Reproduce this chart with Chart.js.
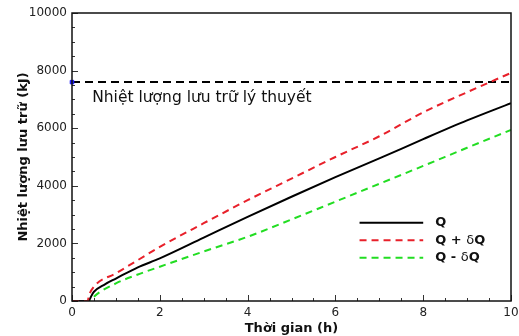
<!DOCTYPE html>
<html>
<head>
<meta charset="utf-8">
<script src="https://cdn.jsdelivr.net/npm/chart.js@4"></script>
<style>
  html, body { margin: 0; padding: 0; background: #fff; }
  #wrap { width: 519px; height: 336px; }
</style>
</head>
<body>
<div id="wrap"><canvas id="c" width="519" height="336"></canvas></div>
<script>
"use strict";

// time (h) / stored heat (kJ)
const qTime   = [0, 0.37, 0.45, 0.5, 0.75, 1, 1.5, 2, 3, 4, 5, 6, 7, 8, 9, 10];
const qValue  = [0, 0, 200, 320, 580, 780, 1170, 1480, 2200, 2920, 3620, 4300, 4950, 5620, 6270, 6870];

const qpTime  = [0, 0.36, 0.38, 0.5, 1, 1.5, 2, 3, 4, 5, 6, 7, 8, 9, 10];
const qpValue = [0, 0, 150, 500, 960, 1420, 1880, 2700, 3500, 4250, 5000, 5720, 6550, 7250, 7920];

const qmTime  = [0, 0.42, 0.5, 1, 1.5, 2, 3, 4, 5, 6, 7, 8, 9, 10];
const qmValue = [0, 0, 150, 610, 920, 1190, 1720, 2230, 2830, 3450, 4070, 4690, 5320, 5940];

const theoryValue = 7600;
const theoryText = "Nhiệt lượng lưu trữ lý thuyết";

const xTicks = [0, 2, 4, 6, 8, 10];
const yTicks = [0, 2000, 4000, 6000, 8000, 10000];

const FONT = "'DejaVu Sans', sans-serif";
const RED = "#e8202a";
const GREEN = "#22dd22";

const pts = (xs, ys) => xs.map((x, i) => ({ x: x, y: ys[i] }));

// inward ticks, major + minor
const tickPlugin = {
  id: "inTicks",
  afterDatasetsDraw(chart) {
    const { ctx, chartArea: a, scales } = chart;
    ctx.save();
    ctx.strokeStyle = "#333";
    ctx.lineWidth = 1;
    for (let v = 0; v <= 10.001; v += 0.5) {
      const px = Math.round(scales.x.getPixelForValue(v)) + 0.5;
      const len = Math.abs(v % 2) < 0.01 ? 6 : 3;
      ctx.beginPath(); ctx.moveTo(px, a.bottom); ctx.lineTo(px, a.bottom - len); ctx.stroke();
    }
    for (let v = 0; v <= 10000; v += 500) {
      const py = Math.round(scales.y.getPixelForValue(v)) + 0.5;
      const len = v % 2000 === 0 ? 6 : 3;
      ctx.beginPath(); ctx.moveTo(a.left, py); ctx.lineTo(a.left + len, py); ctx.stroke();
    }
    ctx.lineWidth = 1.5;
    ctx.strokeStyle = "#111";
    ctx.strokeRect(a.left, a.top, a.right - a.left, a.bottom - a.top);
    ctx.restore();
  },
};

// theory label + legend
const notePlugin = {
  id: "notes",
  afterDraw(chart) {
    const { ctx, scales } = chart;
    const x = scales.x, y = scales.y;
    ctx.save();
    ctx.fillStyle = "#111";
    ctx.textBaseline = "middle";
    ctx.font = "15.5px " + FONT;
    ctx.fillText(theoryText, x.getPixelForValue(0.46), y.getPixelForValue(theoryValue) + 16);

    const rows = [
      { color: "#000", dash: [], label: ["Q"] },
      { color: RED, dash: [7, 5], label: ["Q + ", "δ", "Q"] },
      { color: GREEN, dash: [7, 5], label: ["Q - ", "δ", "Q"] },
    ];
    const x0 = x.getPixelForValue(6.55), x1 = x.getPixelForValue(8.0);
    rows.forEach((r, i) => {
      const py = y.getPixelForValue(2720 - i * 610);
      ctx.strokeStyle = r.color;
      ctx.lineWidth = 2;
      ctx.setLineDash(r.dash);
      ctx.beginPath(); ctx.moveTo(x0, py); ctx.lineTo(x1, py); ctx.stroke();
      let tx = x1 + 12;
      r.label.forEach((s) => {
        ctx.font = (s === "δ" ? "" : "bold ") + "13px " + FONT;
        ctx.fillText(s, tx, py);
        tx += ctx.measureText(s).width;
      });
    });
    ctx.restore();
  },
};

const lineDs = (label, data, color, width, dash, order) => ({
  label: label,
  data: data,
  borderColor: color,
  borderWidth: width,
  borderDash: dash,
  pointRadius: 0,
  cubicInterpolationMode: "monotone",
  fill: false,
  order: order,
});

new Chart(document.getElementById("c"), {
  type: "line",
  data: {
    datasets: [
      lineDs("Q", pts(qTime, qValue), "#000", 2, [], 2),
      lineDs("Q + δQ", pts(qpTime, qpValue), RED, 2, [7, 5], 1),
      lineDs("Q - δQ", pts(qmTime, qmValue), GREEN, 2, [7, 5], 3),
      lineDs("theory", [{ x: 0, y: theoryValue }, { x: 10, y: theoryValue }], "#000", 2, [8, 5], 4),
      {
        label: "mark",
        data: [{ x: 0, y: theoryValue }],
        showLine: false,
        pointStyle: "rect",
        pointRadius: 2.5,
        pointBackgroundColor: "#1a1aff",
        pointBorderColor: "#1a1aff",
        clip: false,
        order: 0,
      },
    ],
  },
  options: {
    responsive: false,
    animation: false,
    layout: { padding: { top: 13, right: 8, left: 0, bottom: 0 } },
    plugins: { legend: { display: false }, tooltip: { enabled: false } },
    scales: {
      x: {
        type: "linear",
        min: 0,
        max: 10,
        afterFit(s) { s.height = 35; s.paddingRight = 0; s.paddingLeft = 0; },
        afterBuildTicks(s) { s.ticks = xTicks.map((v) => ({ value: v })); },
        grid: { display: false, drawTicks: false },
        border: { display: false },
        ticks: {
          padding: 5, color: "#222", font: { family: FONT, size: 12 }, maxRotation: 0,
          callback: (v) => String(v),
        },
        title: {
          display: true,
          text: "Thời gian (h)",
          color: "#111",
          font: { family: FONT, size: 13, weight: "bold" },
          padding: { top: 0, bottom: 0 },
        },
      },
      y: {
        type: "linear",
        min: 0,
        max: 10000,
        afterFit(s) { s.width = 72; s.paddingTop = 0; s.paddingBottom = 0; },
        afterBuildTicks(s) { s.ticks = yTicks.map((v) => ({ value: v })); },
        grid: { display: false, drawTicks: false },
        border: { display: false },
        ticks: {
          padding: 5, color: "#222", font: { family: FONT, size: 12 },
          callback: (v) => String(v),
        },
        title: {
          display: true,
          text: "Nhiệt lượng lưu trữ (kJ)",
          color: "#111",
          font: { family: FONT, size: 13, weight: "bold" },
          padding: { top: 16, bottom: 0 },
        },
      },
    },
  },
  plugins: [tickPlugin, notePlugin],
});
</script>
</body>
</html>
